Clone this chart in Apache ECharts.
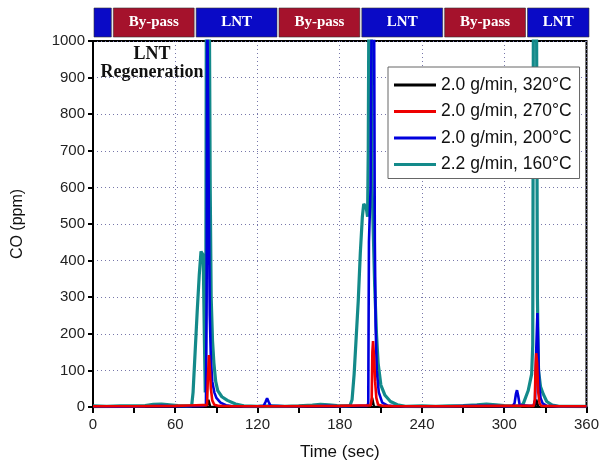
<!DOCTYPE html>
<html>
<head>
<meta charset="utf-8">
<script src="https://cdn.jsdelivr.net/npm/echarts@6/dist/echarts.min.js"></script>
<style>html,body{margin:0;padding:0;background:#fff;}#c{width:602px;height:467px;}</style>
</head>
<body>
<div id="c"></div>
<script>
// ---- data ----
const seriesNames = ['2.0 g/min, 320°C', '2.0 g/min, 270°C', '2.0 g/min, 200°C', '2.2 g/min, 160°C'];
const seriesColors = ['#000000', '#ee0000', '#0000dd', '#138a8a'];

const black320 = [[0,0],[60,1],[83,1],[84.2,20],[85.5,1],[120,0],[180,1],[202.5,1],[203.6,25],[205,1],[240,0],[300,1],[322.5,1],[323.4,20],[324.8,1],[360,0]];

const red270 = [[0,2],[30,2],[60,3],[70,4],[80,5],[83.2,5],[83.8,80],[84.6,142],[85.3,100],[86,50],[87,18],[88.5,6],[92,3],[100,2],[140,2],[180,3],[195,4],[202.5,4],[203.3,20],[203.8,150],[204.3,180],[205,140],[205.8,70],[206.7,25],[208,6],[212,3],[220,2],[260,2],[300,3],[318,3],[321.5,3],[322.3,20],[322.8,100],[323.3,147],[324,120],[324.8,40],[325.8,10],[327,3],[340,2],[360,2]];

const blue200 = [[0,2],[20,1],[40,2],[50,3],[60,2],[70,2],[80,3],[82.4,5],[82.9,300],[83.3,1150],[83.9,1150],[84.6,500],[85.2,250],[86,130],[87,70],[88.5,40],[90,25],[93,12],[97,5],[102,2],[120,2],[124.5,3],[126,15],[127,24],[128,15],[129.5,3],[140,2],[160,2],[170,3],[180,2],[195,3],[200,3],[200.8,10],[201.3,450],[202.5,600],[203.4,1150],[205,1150],[205.6,450],[206.2,220],[207,100],[208.5,40],[211,12],[215,4],[220,2],[240,2],[260,2],[280,3],[290,3],[300,2],[306,2],[307.5,10],[308.5,35],[309.3,46],[310.2,30],[311.3,5],[312,2],[318,3],[321.5,4],[322.5,20],[323.3,150],[324.2,257],[324.8,160],[325.5,60],[326.5,25],[328,10],[331,3],[340,2],[360,2]];

const teal160 = [[0,3],[10,2],[20,3],[30,3],[38,4],[44,7],[50,8],[56,6],[62,4],[68,3],[72,4],[73,40],[74.5,150],[76,260],[77.5,360],[78.8,425],[79.7,430],[80.4,415],[81.2,200],[81.9,40],[82.3,300],[82.7,1150],[84.8,1150],[85.5,600],[86.2,300],[87.2,180],[88.2,120],[89.5,70],[91,45],[94,28],[98,18],[104,8],[110,3],[120,2],[130,3],[140,2],[150,3],[160,5],[166,7],[172,6],[178,4],[184,3],[187.5,4],[189,20],[190.5,90],[192,190],[193.5,290],[195,420],[196.5,520],[197.5,555],[198.3,560],[199.3,545],[200.3,520],[200.8,700],[201.3,1150],[202.9,1150],[203.6,600],[205.5,330],[206.8,200],[208,120],[210,60],[213,32],[217,15],[222,6],[228,2],[240,3],[250,2],[260,3],[270,4],[280,6],[287,8],[294,6],[300,4],[306,3],[312,3],[314,10],[316,30],[317.5,45],[318.5,40],[320,90],[320.8,170],[321.3,1150],[323.5,1150],[324.2,300],[325,100],[326.5,55],[328.5,35],[331,15],[335,5],[340,2],[350,2],[360,2]];

const bandStarts = [0, 14, 74, 134, 194, 254, 314];
const bandEnds   = [14, 74, 134, 194, 254, 314, 360];
const bandLabels = ['', 'By-pass', 'LNT', 'By-pass', 'LNT', 'By-pass', 'LNT'];

const xTicks = {min: 0, max: 360, interval: 60};
const yTicks = {min: 0, max: 1000, interval: 100};

// ---- chart ----
const chart = echarts.init(document.getElementById('c'), null, {renderer: 'canvas'});
const bandData = bandStarts.map((s, i) => [s, bandEnds[i]]);
const lineSeries = (name, data, color, w) => ({
  name, type: 'line', data, xAxisIndex: 0, yAxisIndex: 0,
  showSymbol: false, symbol: 'none', clip: true,
  lineStyle: {color, width: w}, itemStyle: {color}
});

const font = 'Liberation Sans';
chart.setOption({
  animation: false,
  backgroundColor: '#fff',
  grid: [
    {left: 93, right: 12, top: 41, bottom: 60, show: true, borderColor: '#000', borderWidth: 2, backgroundColor: 'transparent'},
    {left: 93, right: 12, top: 8, height: 29}
  ],
  xAxis: [
    {gridIndex: 0, type: 'value', min: xTicks.min, max: xTicks.max, interval: xTicks.interval,
     axisLine: {onZero: false, lineStyle: {color: '#000', width: 2}},
     axisTick: {length: 6, lineStyle: {color: '#000', width: 2}},
     minorTick: {show: true, splitNumber: 2, length: 6, lineStyle: {color: '#000', width: 2}},
     axisLabel: {fontSize: 15, color: '#222', margin: 10, fontFamily: font},
     splitLine: {show: true, lineStyle: {type: [1, 3], color: '#7777aa', width: 1}},
     name: 'Time (sec)', nameLocation: 'middle', nameGap: 37,
     nameTextStyle: {fontSize: 17, color: '#111', fontFamily: font}},
    {gridIndex: 1, type: 'value', min: 0, max: 360, show: false}
  ],
  yAxis: [
    {gridIndex: 0, type: 'value', min: yTicks.min, max: yTicks.max, interval: yTicks.interval,
     axisLine: {show: true, lineStyle: {color: '#000', width: 2}},
     axisTick: {show: true, length: 5, lineStyle: {color: '#000', width: 2}},
     axisLabel: {fontSize: 15, color: '#222', margin: 8, fontFamily: font, formatter: v => String(v)},
     splitLine: {show: true, lineStyle: {type: [1, 3], color: '#7777aa', width: 1}},
     name: 'CO (ppm)', nameLocation: 'middle', nameGap: 67,
     nameTextStyle: {fontSize: 16, color: '#111', fontFamily: font}},
    {gridIndex: 1, type: 'value', min: 0, max: 1, show: false}
  ],
  legend: {
    data: seriesNames, orient: 'vertical', left: 388, top: 67,
    icon: 'rect', itemWidth: 42, itemHeight: 3, itemGap: 8.5,
    padding: [9, 8, 5, 6],
    borderColor: '#666', borderWidth: 1, backgroundColor: '#fff',
    textStyle: {fontSize: 17.5, color: '#111', fontFamily: font}
  },
  graphic: [
    {type: 'text', style: {text: 'LNT\nRegeneration', x: 152, y: 45, align: 'center', verticalAlign: 'top',
      font: 'bold 18px "Liberation Serif"', lineHeight: 18, fill: '#111'}}
  ],
  series: [
    {
      type: 'custom', xAxisIndex: 1, yAxisIndex: 1, data: bandData,
      encode: {x: [0, 1]}, silent: true,
      renderItem: function (params, api) {
        const p0 = api.coord([api.value(0), 1]);
        const p1 = api.coord([api.value(1), 0]);
        const lab = bandLabels[params.dataIndex];
        const fill = lab === 'By-pass' ? '#a5122c' : '#0a0ac6';
        return {type: 'group', children: [
          {type: 'rect', shape: {x: p0[0] + 1, y: p0[1], width: p1[0] - p0[0] - 2, height: p1[1] - p0[1]},
           style: {fill: fill, stroke: '#333', lineWidth: 0.6}},
          {type: 'text', style: {text: lab, x: (p0[0] + p1[0]) / 2, y: (p0[1] + p1[1]) / 2, align: 'center', verticalAlign: 'middle',
           fill: '#fff', font: 'bold 15px "Liberation Serif"'}}
        ]};
      }
    },
    lineSeries(seriesNames[0], black320, seriesColors[0], 2.4),
    lineSeries(seriesNames[3], teal160, seriesColors[3], 3.2),
    lineSeries(seriesNames[2], blue200, seriesColors[2], 2.6),
    lineSeries(seriesNames[1], red270, seriesColors[1], 2.6)
  ]
});
</script>
</body>
</html>
